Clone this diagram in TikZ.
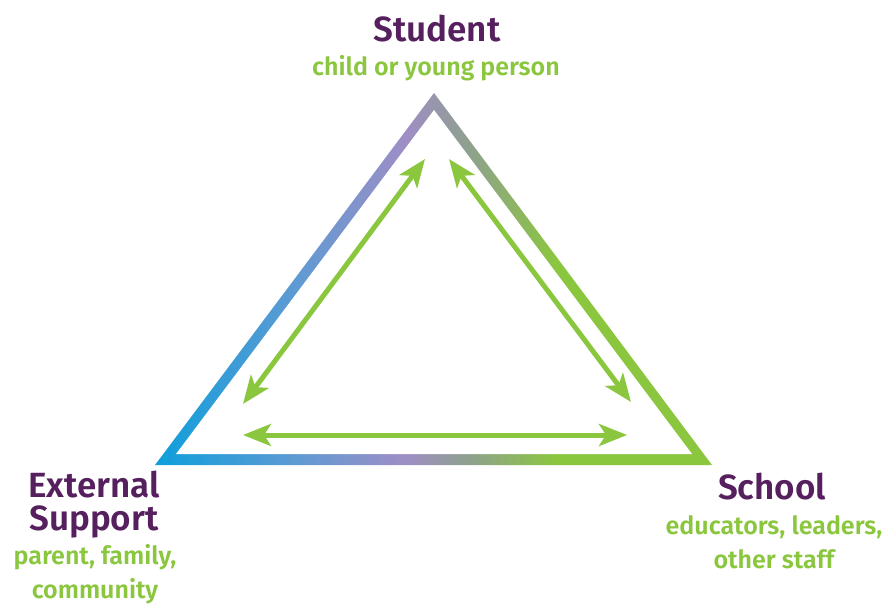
\documentclass[tikz,border=0pt]{standalone}
\usepackage{fontspec}
\setmainfont[BoldFont={Fira Sans SemiBold}]{Fira Sans}
\usetikzlibrary{arrows.meta}
\definecolor{plum}{RGB}{86,32,94}
\definecolor{leaf}{RGB}{139,198,63}
\definecolor{edgecyan}{RGB}{14,159,219}
\definecolor{edgeblue}{RGB}{94,154,211}
\definecolor{edgepurple}{RGB}{158,142,197}
\definecolor{edgegray}{RGB}{143,160,143}
\pgfdeclarehorizontalshading{edgeshade}{100bp}{
    color(0bp)=(edgecyan); color(25bp)=(edgecyan);
    color(37.5bp)=(edgeblue); color(47.5bp)=(edgepurple);
    color(53bp)=(edgegray); color(61bp)=(leaf); color(100bp)=(leaf)}
\begin{document}
\begin{tikzpicture}[
        x=1pt, y=-1pt,
        title/.style={font=\bfseries\fontsize{35}{33}\selectfont, text=plum, anchor=base, inner sep=0pt, align=center},
        role/.style={font=\bfseries\fontsize{25}{34}\selectfont, text=leaf, anchor=base, inner sep=0pt, align=center},
        link/.style={leaf, line width=5pt, {Stealth[length=28pt,width=22pt,inset=7pt]}-{Stealth[length=28pt,width=22pt,inset=7pt]}}
    ]
    \useasboundingbox (0,0) rectangle (885,604);
    % corners of the frame
    \coordinate (outertop) at (434,93);
    \coordinate (outerleft) at (155,465);
    \coordinate (outerright) at (712,465);
    \coordinate (innertop) at (434,110);
    \coordinate (innerleft) at (176,454);
    \coordinate (innerright) at (692,454);
    \shade[shading=edgeshade] (outertop) -- (outerleft) -- (outerright) -- cycle;
    \fill[white] (innertop) -- (innerleft) -- (innerright) -- cycle;
    % arrow ends
    \coordinate (lefttop) at (425,159);
    \coordinate (leftbottom) at (243,404);
    \coordinate (righttop) at (449,159);
    \coordinate (rightbottom) at (631,402);
    \coordinate (baseleft) at (243,435);
    \coordinate (baseright) at (627,435);
    \draw[link] (lefttop) -- (leftbottom);
    \draw[link] (righttop) -- (rightbottom);
    \draw[link] (baseleft) -- (baseright);
    % labels (anchored at the baseline of the last line)
    \node[title] (student) at (437,42) {Student};
    \node[role] (studentrole) at (436,76) {child or young person};
    \node[title] (external) at (94,530) {External\\Support};
    \node[role] (externalrole) at (95,598) {parent, family,\\community};
    \node[title] (school) at (772,499) {School};
    \node[role] (schoolrole) at (774,568) {educators, leaders,\\other staff};
\end{tikzpicture}
\end{document}
